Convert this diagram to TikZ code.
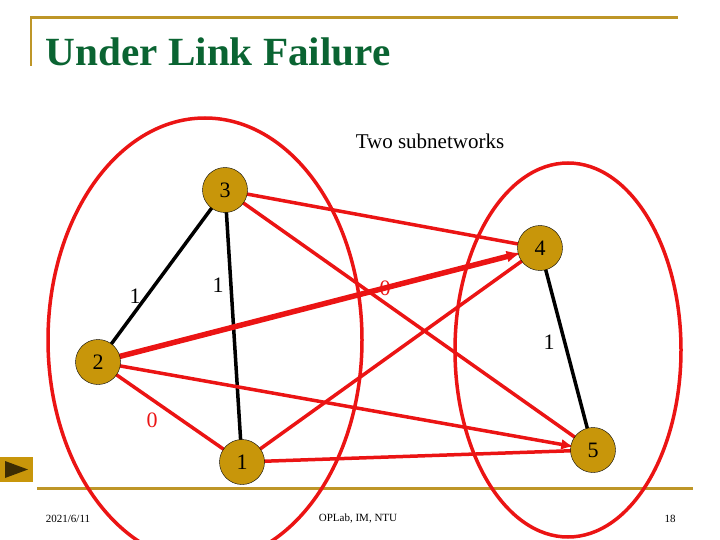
\documentclass[tikz,border=0pt]{standalone}
\usepackage{fontspec}
\setmainfont{Liberation Serif}
\usetikzlibrary{arrows.meta}
\definecolor{gold}{RGB}{190,150,40}
\definecolor{nodegold}{RGB}{200,150,10}
\definecolor{ttl}{RGB}{10,100,50}
\definecolor{lred}{RGB}{235,20,20}
\begin{document}
\begin{tikzpicture}[x=1pt,y=-1pt,
  vtx/.style={circle,draw=black,fill=nodegold,minimum size=45pt,inner sep=0pt,font=\fontsize{22}{22}\selectfont},
  redl/.style={draw=lred,line width=3.5pt},
  blk/.style={draw=black,line width=3.5pt},
  lab/.style={font=\fontsize{22}{22}\selectfont}]
\useasboundingbox (0,0) rectangle (720,540);
\draw[gold,line width=3pt] (30,18) -- (678,18);
\draw[gold,line width=2pt] (31,18) -- (31,66);
\draw[gold,line width=3pt] (37,488) -- (693,488);
\node[text=ttl,font=\bfseries\fontsize{40}{40}\selectfont,anchor=west,xscale=1.03] (title) at (42,52) {Under Link Failure};
\fill[nodegold] (0,457) rectangle (33,482);
\fill[black!70!nodegold] (5,461) -- (28,469.5) -- (5,478) -- cycle;
\node[font=\fontsize{21}{21}\selectfont] (sub) at (430,141) {Two subnetworks};
\draw[lred,line width=3.5pt] (205,340) ellipse [x radius=157,y radius=222];
\draw[lred,line width=3.5pt] (568,350) ellipse [x radius=113,y radius=187];
\coordinate (n3) at (225,190);
\coordinate (n4) at (540,248);
\coordinate (n2) at (98,362);
\coordinate (n1) at (242,462);
\coordinate (n5) at (593,450);
\draw[blk] (n3) -- (n2);
\draw[blk] (n3) -- (n1);
\draw[blk] (n4) -- (n5);
\draw[redl] (n3) -- (n4);
\draw[redl] (n3) -- (n5);
\draw[redl] (n1) -- (n4);
\draw[redl] (n1) -- (n5);
\draw[redl] (n2) -- (n1);
\draw[draw=lred,line width=3.5pt,-{Latex[length=12pt,width=11pt]},shorten >=20pt] (n2) -- (n5);
\draw[draw=lred,line width=5.5pt,-{Latex[length=14pt,width=12pt]},shorten >=20pt] (n2) -- (n4);
\node[vtx] (v3) at (n3) {3};
\node[vtx] (v4) at (n4) {4};
\node[vtx] (v2) at (n2) {2};
\node[vtx] (v1) at (n1) {1};
\node[vtx] (v5) at (n5) {5};
\node[lab] (l32) at (135,296) {1};
\node[lab] (l31) at (218,285) {1};
\node[lab,text=lred] (l24) at (385,288) {0};
\node[lab] (l45) at (549,342) {1};
\node[lab,text=lred] (l21) at (152,420) {0};
\node[font=\fontsize{11}{11}\selectfont] (d) at (68,519) {2021/6/11};
\node[font=\fontsize{11}{11}\selectfont] (o) at (358,519) {OPLab, IM, NTU};
\node[font=\fontsize{11}{11}\selectfont] (p) at (670,519) {18};
\end{tikzpicture}
\end{document}
